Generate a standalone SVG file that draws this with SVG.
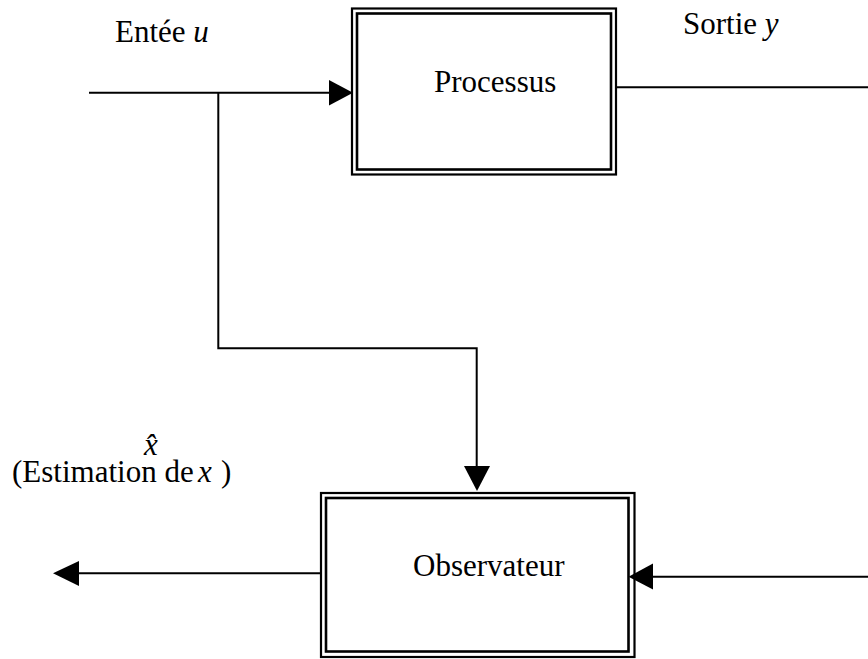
<svg xmlns="http://www.w3.org/2000/svg" width="868" height="659" viewBox="0 0 868 659">
  <style>
    .frame-outer { fill: none; stroke: #000; stroke-width: 2.2; }
    .frame-inner { fill: none; stroke: #000; stroke-width: 2.6; }
    .wire { fill: none; stroke: #000; stroke-width: 2; }
    .head { fill: #000; stroke: none; }
    text { font-family: "Liberation Serif", "Times New Roman", serif; font-size: 31px; fill: #000; }
    .math { font-style: italic; }
  </style>
  <rect width="868" height="659" fill="#fff"/>

  <!-- Plant block -->
  <g id="processus">
    <rect class="frame-outer" x="352" y="8.5" width="264" height="166"/>
    <rect class="frame-inner" x="357" y="13.5" width="254" height="156"/>
    <text x="434" y="92">Processus</text>
  </g>

  <!-- State observer block -->
  <g id="observateur">
    <rect class="frame-outer" x="321" y="493" width="313.5" height="164"/>
    <rect class="frame-inner" x="326" y="498" width="302.5" height="153.5"/>
    <text x="413" y="576">Observateur</text>
  </g>

  <!-- Signal labels -->
  <g id="label-entree">
    <text x="115" y="42">Entée <tspan class="math">u</tspan></text>
  </g>
  <g id="label-sortie">
    <text x="683" y="33.5">Sortie <tspan class="math">y</tspan></text>
  </g>
  <g id="label-estimation">
    <text class="math" x="144" y="455">x̂</text>
    <text x="12" y="482">(Estimation de</text>
    <text class="math" x="198" y="482">x</text>
    <text x="221" y="482">)</text>
  </g>

  <!-- Connectors -->
  <g id="connectors">
    <!-- input u into the plant -->
    <line class="wire" x1="89" y1="92.7" x2="331" y2="92.7"/>
    <polygon class="head" points="329,80 353,92.7 329,105.5"/>
    <!-- branch of u down to the observer -->
    <polyline class="wire" points="218.3,92.7 218.3,348.3 476.7,348.3 476.7,468"/>
    <polygon class="head" points="464,466 490,466 477,491"/>
    <!-- plant output y -->
    <line class="wire" x1="617" y1="87.3" x2="868" y2="87.3"/>
    <!-- y fed back into the observer -->
    <line class="wire" x1="868" y1="576.7" x2="651" y2="576.7"/>
    <polygon class="head" points="653,563.5 628.5,576.7 653,589.5"/>
    <!-- estimated state out of the observer -->
    <line class="wire" x1="320" y1="573.3" x2="77" y2="573.3"/>
    <polygon class="head" points="79,561 53,573.3 79,586"/>
  </g>
</svg>
